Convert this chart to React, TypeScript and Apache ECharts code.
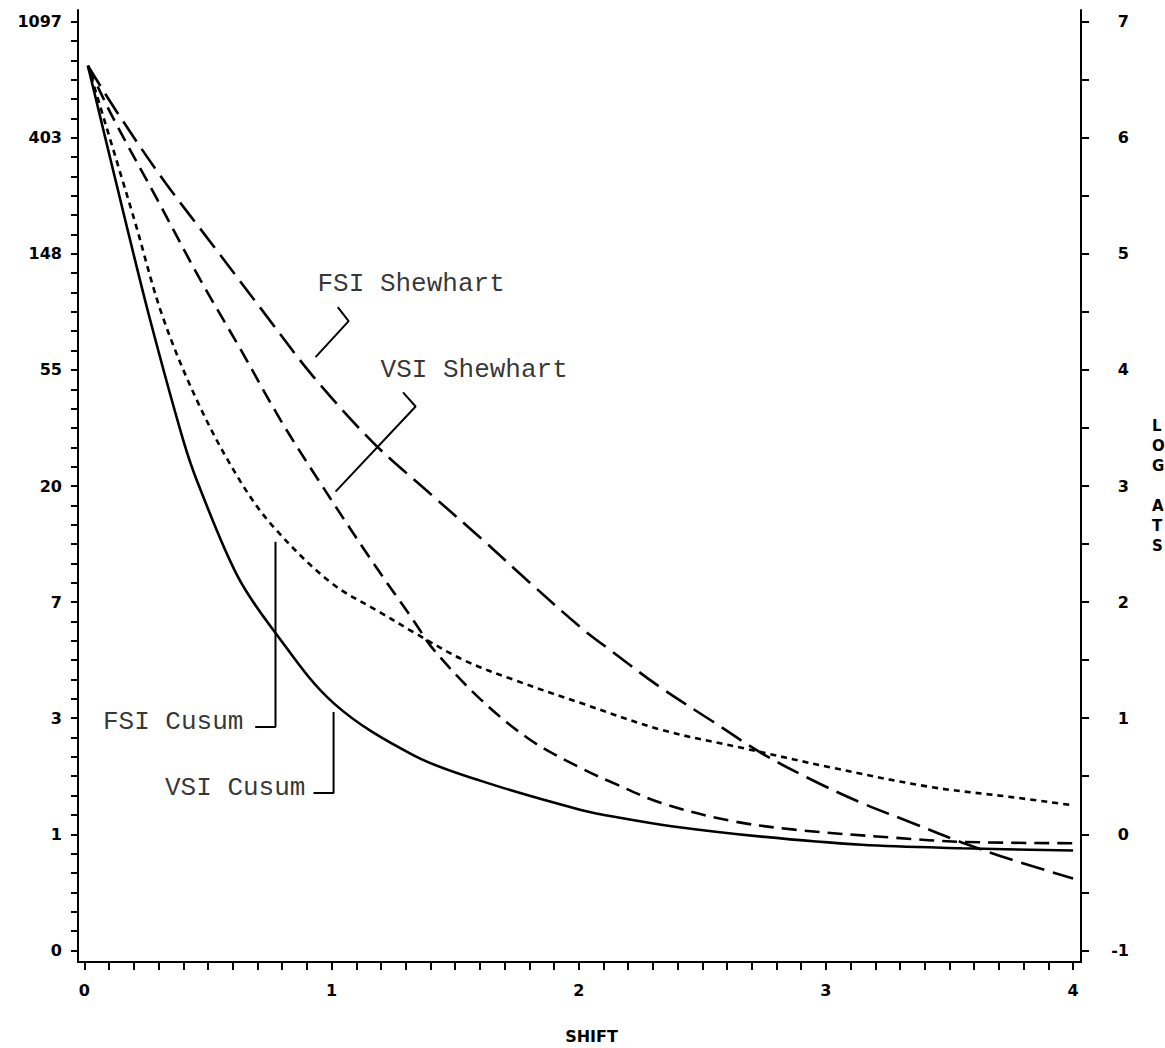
import React, { useEffect, useRef } from "react";
import * as echarts from "echarts";

// ---- tick labels ----
const SHIFT_TICK_VALUES = [0, 1, 2, 3, 4];
const SHIFT_TICK_LABELS = ["0", "1", "2", "3", "4"];
const LOG_TICK_VALUES = [-1, 0, 1, 2, 3, 4, 5, 6, 7];
const LEFT_TICK_LABELS = ["0", "1", "3", "7", "20", "55", "148", "403", "1097"];
const RIGHT_TICK_LABELS = ["-1", "0", "1", "2", "3", "4", "5", "6", "7"];

// ---- series (shift, log ATS) ----
const FSI_SHEWHART: [number, number][] = [
  [0.014, 6.62], [0.132, 6.22], [0.318, 5.64], [0.521, 5.07], [0.724, 4.5],
  [0.927, 3.94], [1.17, 3.37], [1.401, 2.93], [1.604, 2.55], [1.806, 2.16],
  [2.009, 1.78], [2.131, 1.58], [2.334, 1.26], [2.536, 0.98], [2.739, 0.7],
  [2.942, 0.47], [3.145, 0.27], [3.347, 0.1], [3.55, -0.07], [3.753, -0.22],
  [4.0, -0.38],
];
const VSI_SHEWHART: [number, number][] = [
  [0.014, 6.62], [0.116, 6.17], [0.294, 5.47], [0.468, 4.78], [0.631, 4.18],
  [0.793, 3.57], [0.947, 3.05], [1.158, 2.37], [1.332, 1.84], [1.413, 1.59],
  [1.604, 1.16], [1.806, 0.81], [2.009, 0.57], [2.131, 0.45], [2.334, 0.27],
  [2.606, 0.12], [2.873, 0.04], [3.279, -0.03], [3.55, -0.065], [4.0, -0.077],
];
const FSI_CUSUM: [number, number][] = [
  [0.014, 6.62], [0.201, 5.3], [0.318, 4.45], [0.468, 3.68], [0.631, 3.04],
  [0.764, 2.65], [0.996, 2.17], [1.198, 1.91], [1.332, 1.74], [1.535, 1.5],
  [1.738, 1.33], [2.009, 1.13], [2.334, 0.9], [2.67, 0.74], [3.011, 0.58],
  [3.416, 0.41], [3.753, 0.32], [4.0, 0.25],
];
const VSI_CUSUM: [number, number][] = [
  [0.014, 6.62], [0.164, 5.3], [0.266, 4.43], [0.399, 3.4], [0.46, 3.02],
  [0.618, 2.23], [0.764, 1.76], [1.008, 1.13], [1.332, 0.68], [1.604, 0.46],
  [2.009, 0.21], [2.172, 0.14], [2.375, 0.07], [2.74, -0.02], [3.145, -0.09],
  [3.55, -0.12], [4.0, -0.14],
];

// ---- annotations (data coordinates) ----
const LABEL_NAMES = ["FSI Shewhart", "VSI Shewhart", "FSI Cusum", "VSI Cusum"];
const LABEL_ANCHORS: [number, number][] = [
  [0.943, 4.74], [1.198, 4.0], [0.075, 0.967], [0.326, 0.398],
];
const LEADERS: [number, number][][] = [
  [[1.025, 4.54], [1.069, 4.42], [0.935, 4.11]],
  [[1.289, 3.806], [1.34, 3.685], [1.016, 2.952]],
  [[0.773, 2.52], [0.773, 0.924], [0.691, 0.924]],
  [[1.008, 1.053], [1.008, 0.355], [0.927, 0.355]],
];

const X_MIN = -0.026;
const X_MAX = 4.032;
const Y_MIN = -1.1;
const Y_MAX = 7.1;

const xMinorTicks: number[] = [];
for (let i = 0; i <= 40; i++) xMinorTicks.push(+(i * 0.1).toFixed(3));
const leftTicks: number[] = [];
for (let i = 0; i <= 48; i++) leftTicks.push(-1 + i / 6);
const rightTicks: number[] = [];
for (let i = 0; i <= 16; i++) rightTicks.push(-1 + i * 0.5);

const AXIS_FONT = "DejaVu Sans";
const TYPE_FONT = "Liberation Mono";

export default function App() {
  const ref = useRef<HTMLDivElement>(null);
  useEffect(() => {
    if (!ref.current) return;
    const chart = echarts.init(ref.current, undefined, { renderer: "svg" });
    const lineBase = {
      type: "line",
      showSymbol: false,
      symbol: "none",
      silent: true,
      smooth: 0.35,
      xAxisIndex: 0,
      yAxisIndex: 0,
    };
    const axisLine = {
      show: true,
      onZero: false,
      lineStyle: { color: "#000", width: 2 },
    };
    const tickStyle = { color: "#000", width: 2 };
    const labelStyle = {
      color: "#000",
      fontFamily: AXIS_FONT,
      fontWeight: "bold",
      fontSize: 16,
    };
    const option: any = {
      animation: false,
      backgroundColor: "#fff",
      grid: {
        left: 78,
        right: 84,
        top: 10,
        bottom: 86,
        containLabel: false,
        outerBoundsMode: "none",
      },
      xAxis: [
        {
          type: "value",
          min: X_MIN,
          max: X_MAX,
          position: "bottom",
          axisLine,
          splitLine: { show: false },
          axisTick: {
            show: true,
            length: 8,
            lineStyle: tickStyle,
            customValues: xMinorTicks,
          },
          axisLabel: {
            ...labelStyle,
            margin: 20,
            customValues: SHIFT_TICK_VALUES,
            formatter: (v: number) => SHIFT_TICK_LABELS[Math.round(v)] ?? "",
          },
          name: "SHIFT",
          nameLocation: "middle",
          nameGap: 66,
          nameTextStyle: {
            ...labelStyle,
            fontSize: 16,
            padding: [0, 0, 0, 24],
          },
        },
      ],
      yAxis: [
        {
          type: "value",
          min: Y_MIN,
          max: Y_MAX,
          position: "left",
          axisLine,
          splitLine: { show: false },
          axisTick: {
            show: true,
            length: 7,
            lineStyle: tickStyle,
            customValues: leftTicks,
          },
          axisLabel: {
            ...labelStyle,
            margin: 16,
            customValues: LOG_TICK_VALUES,
            formatter: (v: number) => LEFT_TICK_LABELS[Math.round(v) + 1] ?? "",
          },
        },
        {
          type: "value",
          min: Y_MIN,
          max: Y_MAX,
          position: "right",
          axisLine,
          splitLine: { show: false },
          axisTick: {
            show: true,
            length: 8,
            lineStyle: tickStyle,
            customValues: rightTicks,
          },
          axisLabel: {
            ...labelStyle,
            margin: 48,
            align: "right",
            customValues: LOG_TICK_VALUES,
            formatter: (v: number) => RIGHT_TICK_LABELS[Math.round(v) + 1] ?? "",
          },
          name: "L\nO\nG\n\nA\nT\nS",
          nameLocation: "middle",
          nameRotate: 0,
          nameGap: 71,
          nameTextStyle: {
            ...labelStyle,
            fontSize: 15,
            lineHeight: 20,
            align: "left",
            verticalAlign: "middle",
          },
        },
      ],
      series: [
        {
          ...lineBase,
          name: "FSI Shewhart",
          data: FSI_SHEWHART,
          lineStyle: { color: "#000", width: 2.6, type: [24, 9] },
        },
        {
          ...lineBase,
          name: "VSI Shewhart",
          data: VSI_SHEWHART,
          lineStyle: { color: "#000", width: 2.6, type: [15, 8] },
        },
        {
          ...lineBase,
          name: "FSI Cusum",
          data: FSI_CUSUM,
          lineStyle: { color: "#000", width: 2.6, type: [6, 5] },
        },
        {
          ...lineBase,
          name: "VSI Cusum",
          data: VSI_CUSUM,
          lineStyle: { color: "#000", width: 2.6, type: "solid" },
        },
        ...LEADERS.map((pts, i) => ({
          type: "line",
          name: "leader " + LABEL_NAMES[i],
          data: pts,
          showSymbol: false,
          symbol: "none",
          silent: true,
          lineStyle: { color: "#000", width: 2 },
        })),
        {
          type: "scatter",
          name: "labels",
          silent: true,
          symbolSize: 0,
          itemStyle: { color: "transparent" },
          data: LABEL_NAMES.map((n, i) => ({ name: n, value: LABEL_ANCHORS[i] })),
          label: {
            show: true,
            position: "right",
            distance: 0,
            formatter: "{b}",
            color: "#000",
            fontFamily: TYPE_FONT,
            fontSize: 26,
          },
        },
      ],
    };
    chart.setOption(option);
    return () => chart.dispose();
  }, []);
  return (
    <div
      ref={ref}
      style={{ position: "absolute", left: 0, top: 0, width: 1165, height: 1048 }}
    />
  );
}
